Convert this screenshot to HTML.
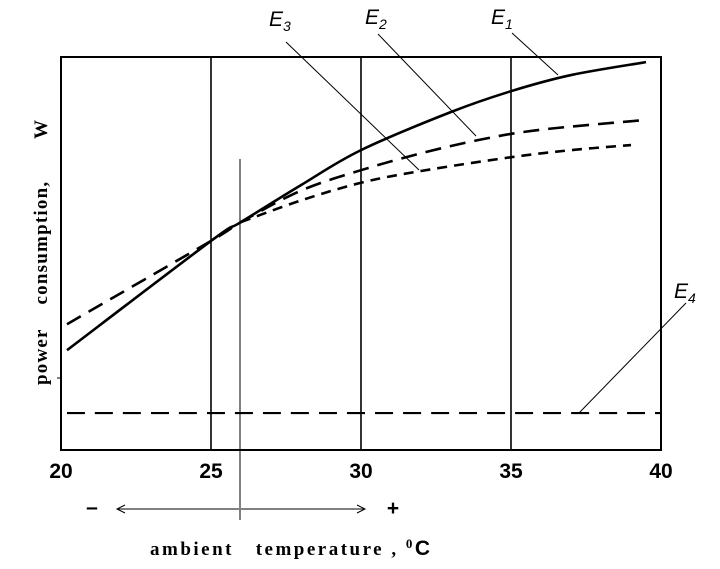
<!DOCTYPE html>
<html><head><meta charset="utf-8"><style>
html,body{margin:0;padding:0;background:#fff}
svg{display:block}
.tk{font:bold 21px "Liberation Sans",sans-serif}
.lb{font:italic 21px "Liberation Sans",sans-serif}
.sr{font:bold 19px "Liberation Serif",serif}
</style></head><body>
<svg id="c" width="720" height="569" viewBox="0 0 720 569"></svg>
<script>
const xTicks=[20,25,30,35,40];
const e1X=[20.2,25,26,28,30,33,35,37,39.5];
const e1Y=[25.4,53.2,58,67.4,76.3,86,91.3,95.4,98.7];
const e2X=[20.2,25,26,28,30,32,34,36,39.5];
const e2Y=[32,53.2,58,66,71.2,75.5,79,81.5,84];
const e3X=[26,28,30,32,35,37,39];
const e3Y=[58,63.5,68,71,74.5,76.3,77.6];
const e4X=[20.2,40];
const e4Y=[9.4,9.4];
const NS="http://www.w3.org/2000/svg";
const svg=document.getElementById('c');
const X=v=>61+(v-20)*30;
const Y=v=>450-v*3.93;
function mk(t,a,p){const e=document.createElementNS(NS,t);for(const k in a)e.setAttribute(k,a[k]);(p||svg).appendChild(e);return e;}
let f=mk('rect',{x:61,y:57,width:600,height:393,fill:'none',stroke:'#000','stroke-width':2});


xTicks.forEach((t,i)=>{
  if(i>0&&i<xTicks.length-1){let l=mk('line',{x1:X(t),x2:X(t),y1:57,y2:450,stroke:'#000','stroke-width':1.6});
  
  }
  let tx=mk('text',{x:X(t),y:478,'text-anchor':'middle',class:'tk'});tx.textContent=t;
  
  
});
let r=mk('line',{x1:240,x2:240,y1:159,y2:520,stroke:'#000','stroke-width':1});


let tm=mk('line',{x1:57,x2:61,y1:378,y2:378,stroke:'#000','stroke-width':1});


function series(xs,ys,name,dash,w){
  let d=xs.map((x,i)=>[X(x),Y(ys[i])]);
  let s='M'+d[0].join(',');
  for(let i=1;i<d.length;i++){
    const p0=d[Math.max(0,i-2)],p1=d[i-1],p2=d[i],p3=d[Math.min(d.length-1,i+1)];
    s+=` C${p1[0]+(p2[0]-p0[0])/6},${p1[1]+(p2[1]-p0[1])/6} ${p2[0]-(p3[0]-p1[0])/6},${p2[1]-(p3[1]-p1[1])/6} ${p2[0]},${p2[1]}`;
  }
  let p=mk('path',{d:s,fill:'none',stroke:'#000','stroke-width':w,'stroke-dasharray':dash});
  
  
}
series(e1X,e1Y,'series-e1','none',2.6);
series(e2X,e2Y,'series-e2','16,9',2.6);
series(e3X,e3Y,'series-e3','10,7',2.6);
series(e4X,e4Y,'series-e4','18,10',2.2);
const leaders=[['E','1',499,24,512,33,558,75],['E','2',373,24,378,34,476,136],['E','3',277,26,286,42,419,170],['E','4',682,298,686,303,579,413]];
leaders.forEach(q=>{
  let l=mk('line',{x1:q[4],y1:q[5],x2:q[6],y2:q[7],stroke:'#000','stroke-width':1});
  
  
  let t=mk('text',{x:q[2]-8,y:q[3],class:'lb'});
  t.innerHTML='E<tspan dy="5" font-size="14">'+q[1]+'</tspan>';
  
  
});
let ar=mk('g',{});


mk('line',{x1:117,x2:239,y1:509,y2:509,stroke:'#000','stroke-width':1},ar);
mk('line',{x1:241,x2:365,y1:509,y2:509,stroke:'#000','stroke-width':1},ar);
mk('path',{d:'M125,505 L117,509 L125,513 M357,505 L365,509 L357,513',fill:'none',stroke:'#000','stroke-width':1},ar);
let mi=mk('text',{x:92,y:514,'text-anchor':'middle',class:'tk'});mi.textContent='–';


let pl=mk('text',{x:393,y:515,'text-anchor':'middle',class:'tk'});pl.textContent='+';


let xt=mk('text',{x:150,y:555,class:'sr','font-size':20,textLength:280});
xt.innerHTML='ambient&#160;&#160;&#160;temperature , <tspan dy="-7" font-size="13">0</tspan><tspan dy="7" font-family="Liberation Sans" font-size="21">C</tspan>';


let yt=mk('text',{x:0,y:0,class:'sr',textLength:265,transform:'translate(47,385) rotate(-90)'});
yt.innerHTML='power&#160;&#160;&#160;&#160;consumption,&#160;&#160;&#160;&#160;&#160;&#160;&#160;W';


</script>
</body></html>
